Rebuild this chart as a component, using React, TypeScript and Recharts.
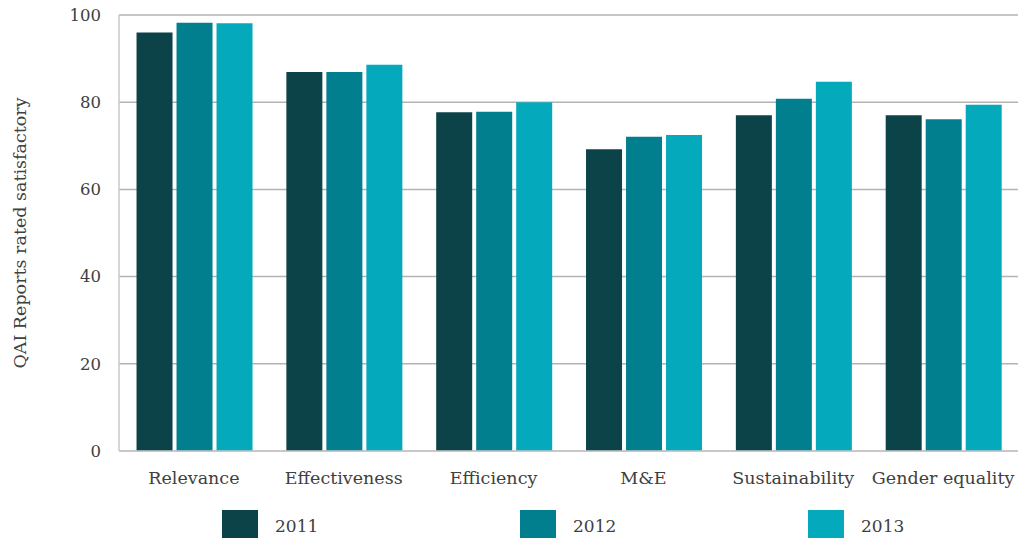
import React from "react";
import { BarChart, Bar, XAxis, YAxis, CartesianGrid } from "recharts";

const categories = ["Relevance", "Effectiveness", "Efficiency", "M&E", "Sustainability", "Gender equality"];
const seriesNames = ["2011", "2012", "2013"];
const v2011 = [96.0, 86.9, 77.7, 69.2, 77.0, 77.0];
const v2012 = [98.2, 86.9, 77.8, 72.1, 80.8, 76.1];
const v2013 = [98.1, 88.6, 80.0, 72.5, 84.7, 79.4];
const yTicks = [0, 20, 40, 60, 80, 100];
const colors = ["#0b4349", "#027f8f", "#05a9bc"];

const data = categories.map((c, i) => ({ name: c, "2011": v2011[i], "2012": v2012[i], "2013": v2013[i] }));

const FONT = "'DejaVu Serif', serif";
const legendX = [222, 520, 808];

export default function App() {
  return (
    <div style={{ position: "absolute", left: 0, top: 0, width: 1023, height: 538, background: "#fff", overflow: "hidden", fontFamily: FONT }}>
      <BarChart
        width={1023}
        height={538}
        data={data}
        margin={{ top: 15, right: 5, left: 0, bottom: 52 }}
        barCategoryGap="11.7%"
        barGap={4}
      >
        <CartesianGrid vertical={false} stroke="#b3b3b3" strokeWidth={1.5} />
        <XAxis
          dataKey="name"
          height={35}
          tickSize={0}
          tickMargin={21}
          axisLine={{ stroke: "#c8c8c8", strokeWidth: 1.5 }}
          tick={{ fontFamily: FONT, fontSize: 17.5, fill: "#404040" }}
          interval={0}
        />
        <YAxis
          width={119}
          domain={[0, 100]}
          ticks={yTicks}
          tickSize={0}
          tickMargin={18}
          axisLine={{ stroke: "#c8c8c8", strokeWidth: 1.5 }}
          tick={{ fontFamily: FONT, fontSize: 16.5, fill: "#404040" }}
          label={{
            value: "QAI Reports rated satisfactory",
            angle: -90,
            position: "insideLeft",
            offset: 20,
            style: { textAnchor: "middle", fontFamily: FONT, fontSize: 17.5, fill: "#404040" },
          }}
        />
        {seriesNames.map((s, i) => (
          <Bar key={s} dataKey={s} fill={colors[i]} isAnimationActive={false} />
        ))}
      </BarChart>
      {seriesNames.map((s, i) => (
        <div key={s} style={{ position: "absolute", left: legendX[i], top: 510, display: "flex", alignItems: "flex-start" }}>
          <div style={{ width: 36, height: 34, background: colors[i] }} />
          <span style={{ marginLeft: 17, marginTop: 6, fontSize: 17, color: "#404040", fontFamily: FONT }}>{s}</span>
        </div>
      ))}
    </div>
  );
}
